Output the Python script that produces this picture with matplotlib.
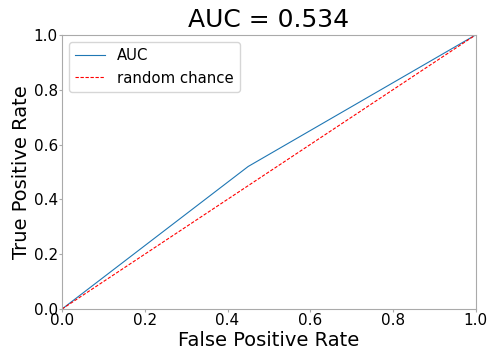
import matplotlib
matplotlib.use('Agg')
import numpy as np
from matplotlib import pyplot as plt

# ROC points
fpr = [0.0, 0.45, 1.0]
tpr = [0.0, 0.52, 1.0]
chance = [0.0, 1.0]
auc_value = 0.534

fig = plt.figure(figsize=(4.92, 3.52), dpi=100)
ax = fig.add_axes([0.126, 0.122, 0.841, 0.779])

ax.plot(fpr, tpr, color='#1f77b4', lw=0.8, label='AUC')
ax.plot(chance, chance, color='red', ls='--', lw=0.8, dashes=(3, 1.5), label='random chance')

ax.set_xlim(0, 1)
ax.set_ylim(0, 1)
ax.set_title('AUC = %.3f' % auc_value, fontsize=18)
ax.set_xlabel('False Positive Rate', fontsize=14, labelpad=2)
ax.set_ylabel('True Positive Rate', fontsize=14, labelpad=2)
ax.tick_params(labelsize=11, length=2, pad=1, color='#aaaaaa')
for s in ax.spines.values():
    s.set_color('#aaaaaa')
ax.legend(loc='upper left', fontsize=10.7)

plt.savefig('out.png')
